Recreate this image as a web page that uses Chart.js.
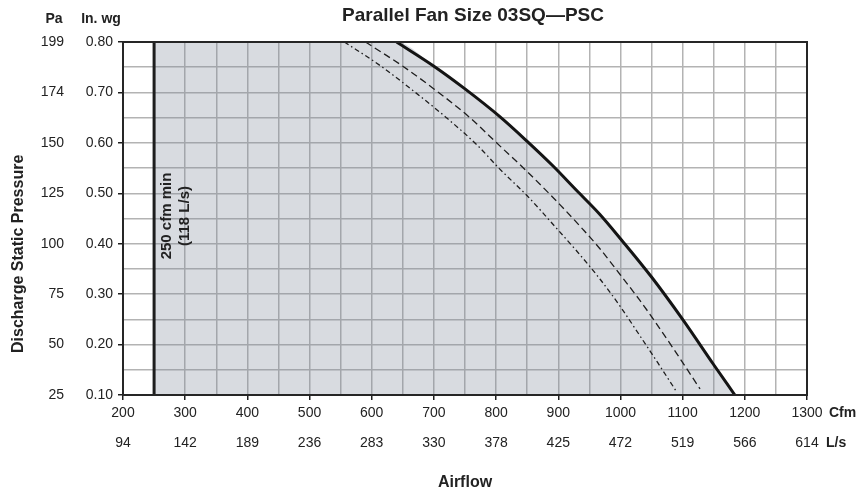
<!DOCTYPE html>
<html lang="en">
<head>
<meta charset="UTF-8">
<title>Parallel Fan Size 03SQ—PSC</title>
<style>
  html, body { margin: 0; padding: 0; background: #fff; }
  #wrap { width: 868px; height: 492px; position: relative; }
</style>
</head>
<body>
<div id="wrap"><canvas id="fanChart"></canvas></div>
<script src="https://cdn.jsdelivr.net/npm/chart.js@4.4.1/dist/chart.umd.min.js"></script>
<script>
// tick labels (airflow in cfm and L/s, pressure in in. wg and Pa)
const cfmTicks = [200, 300, 400, 500, 600, 700, 800, 900, 1000, 1100, 1200, 1300];
const lpsTicks = [94, 142, 189, 236, 283, 330, 378, 425, 472, 519, 566, 614];
const wgTicks = [0.10, 0.20, 0.30, 0.40, 0.50, 0.60, 0.70, 0.80];
const paTicks = [25, 50, 75, 100, 125, 150, 174, 199];

// minimum airflow
const minCfm = 250;

// fan curves: max (solid), middle (dashed), low (dash-dot)
const maxCfm = [640, 700, 750, 806, 850, 890, 930, 967, 1002, 1050, 1100, 1150, 1184];
const maxWg  = [0.80, 0.752, 0.707, 0.652, 0.603, 0.556, 0.505, 0.458, 0.407, 0.334, 0.250, 0.160, 0.10];

const midCfm = [590, 650, 700, 756, 806, 850, 903, 940, 967, 1000, 1031, 1052, 1090, 1128];
const midWg  = [0.80, 0.752, 0.707, 0.652, 0.594, 0.543, 0.477, 0.428, 0.390, 0.338, 0.288, 0.252, 0.183, 0.112];

const lowCfm = [556, 615, 665, 720, 770, 806, 850, 894, 930, 967, 1000, 1031, 1060, 1090];
const lowWg  = [0.80, 0.752, 0.705, 0.650, 0.595, 0.548, 0.495, 0.435, 0.385, 0.330, 0.275, 0.218, 0.164, 0.107];

const FONT = '"Liberation Sans", Arial, Helvetica, sans-serif';
Chart.defaults.font.family = FONT;
Chart.defaults.color = '#222';

const pts = (xs, ys) => xs.map((x, i) => ({ x: x, y: ys[i] }));
const yMin = wgTicks[0], yMax = wgTicks[wgTicks.length - 1];

// operating region: from the min-cfm line to the max fan curve
const regionPts = [{ x: minCfm, y: yMax }].concat(pts(maxCfm, maxWg));

function findIdx(arr, v) {
    for (let i = 0; i < arr.length; i++) {
        if (Math.abs(arr[i] - v) < 1e-6) return i;
    }
    return -1;
}

const textPlugin = {
    id: 'textPlugin',
    afterDatasetsDraw(chart) {
        const { ctx, chartArea: a } = chart;
        ctx.save();
        // frame
        ctx.strokeStyle = '#262626';
        ctx.lineWidth = 2;
        ctx.strokeRect(a.left, a.top, a.right - a.left, a.bottom - a.top);
        ctx.restore();
    },
    afterDraw(chart) {
        const { ctx } = chart;
        const xs = chart.scales.x;
        ctx.save();
        ctx.fillStyle = '#222';
        ctx.textBaseline = 'middle';

        ctx.font = 'bold 19px ' + FONT;
        ctx.textAlign = 'center';
        ctx.fillText('Parallel Fan Size 03SQ\u2014PSC', 473, 16);

        ctx.font = 'bold 14px ' + FONT;
        ctx.fillText('Pa', 54, 19);
        ctx.fillText('In. wg', 101, 19);

        ctx.textAlign = 'left';
        ctx.fillText('Cfm', 829, 413);
        ctx.fillText('L/s', 826, 443);

        // y axis title, read bottom-up
        ctx.save();
        ctx.font = 'bold 16px ' + FONT;
        ctx.translate(19, 353);
        ctx.rotate(-Math.PI / 2);
        ctx.textAlign = 'left';
        ctx.fillText('Discharge Static Pressure', 0, 0);
        ctx.restore();

        // min airflow note along the vertical line
        const lx = xs.getPixelForValue(minCfm);
        ctx.font = 'bold 15px ' + FONT;
        ctx.translate(lx + 13, 216);
        ctx.rotate(-Math.PI / 2);
        ctx.textAlign = 'center';
        ctx.fillText(minCfm + ' cfm min', 0, 0);
        ctx.fillText('(118 L/s)', 0, 18);
        ctx.restore();
    }
};

new Chart(document.getElementById('fanChart'), {
    type: 'scatter',
    data: {
        datasets: [
            {
                data: regionPts,
                showLine: true,
                fill: 'start',
                backgroundColor: 'rgba(125,135,152,0.3)',
                borderWidth: 0,
                pointRadius: 0,
                cubicInterpolationMode: 'monotone',
                order: 10
            },
            {
                data: [{ x: minCfm, y: yMin }, { x: minCfm, y: yMax }],
                showLine: true,
                borderColor: '#1e1e1e',
                borderWidth: 3,
                pointRadius: 0,
                order: 1
            },
            {
                data: pts(lowCfm, lowWg),
                showLine: true,
                borderColor: '#1e1e1e',
                borderWidth: 1.3,
                borderDash: [5, 3, 1.5, 3],
                pointRadius: 0,
                cubicInterpolationMode: 'monotone',
                order: 1
            },
            {
                data: pts(midCfm, midWg),
                showLine: true,
                borderColor: '#1e1e1e',
                borderWidth: 1.3,
                borderDash: [7, 4],
                pointRadius: 0,
                cubicInterpolationMode: 'monotone',
                order: 1
            },
            {
                data: pts(maxCfm, maxWg),
                showLine: true,
                borderColor: '#141414',
                borderWidth: 3,
                pointRadius: 0,
                cubicInterpolationMode: 'monotone',
                order: 1
            }
        ]
    },
    options: {
        responsive: true,
        maintainAspectRatio: false,
        animation: false,
        layout: { padding: { top: 42, right: 61, left: 0, bottom: 0 } },
        plugins: {
            legend: { display: false },
            tooltip: { enabled: false }
        },
        scales: {
            x: {
                type: 'linear',
                min: cfmTicks[0],
                max: cfmTicks[cfmTicks.length - 1],
                border: { color: '#1e1e1e', width: 2 },
                grid: {
                    color: '#b3b3b3',
                    lineWidth: 1.5,
                    tickLength: 5,
                    tickColor: c => (c.tick && findIdx(cfmTicks, c.tick.value) >= 0) ? '#1e1e1e' : 'rgba(0,0,0,0)'
                },
                ticks: {
                    stepSize: 50,
                    autoSkip: false,
                    maxRotation: 0,
                    padding: -2,
                    font: { size: 14, lineHeight: 2.15 },
                    color: '#222',
                    callback: v => {
                        const i = findIdx(cfmTicks, v);
                        return i >= 0 ? [String(cfmTicks[i]), String(lpsTicks[i])] : '';
                    }
                },
                title: {
                    display: true,
                    text: 'Airflow',
                    font: { size: 16, weight: 'bold' },
                    color: '#222',
                    padding: { top: 10, bottom: 0 }
                },
                afterFit: s => { s.height = 97; }
            },
            y: {
                type: 'linear',
                position: 'left',
                weight: 0,
                min: yMin,
                max: yMax,
                border: { color: '#1e1e1e', width: 2 },
                grid: {
                    color: '#b3b3b3',
                    lineWidth: 1.5,
                    tickLength: 5,
                    tickColor: c => (c.tick && findIdx(wgTicks, c.tick.value) >= 0) ? '#1e1e1e' : 'rgba(0,0,0,0)'
                },
                ticks: {
                    stepSize: 0.05,
                    autoSkip: false,
                    padding: 5,
                    font: { size: 14 },
                    color: '#222',
                    callback: v => {
                        const i = findIdx(wgTicks, v);
                        return i >= 0 ? wgTicks[i].toFixed(2) : '';
                    }
                },
                afterFit: s => { s.width = 48; }
            },
            pa: {
                type: 'linear',
                position: 'left',
                weight: 1,
                min: yMin,
                max: yMax,
                border: { display: false },
                grid: { display: false, drawTicks: false },
                ticks: {
                    stepSize: 0.05,
                    autoSkip: false,
                    padding: 11,
                    font: { size: 14 },
                    color: '#222',
                    callback: v => {
                        const i = findIdx(wgTicks, v);
                        return i >= 0 ? String(paTicks[i]) : '';
                    }
                },
                afterFit: s => { s.width = 75; }
            }
        }
    },
    plugins: [textPlugin]
});
</script>
</body>
</html>
